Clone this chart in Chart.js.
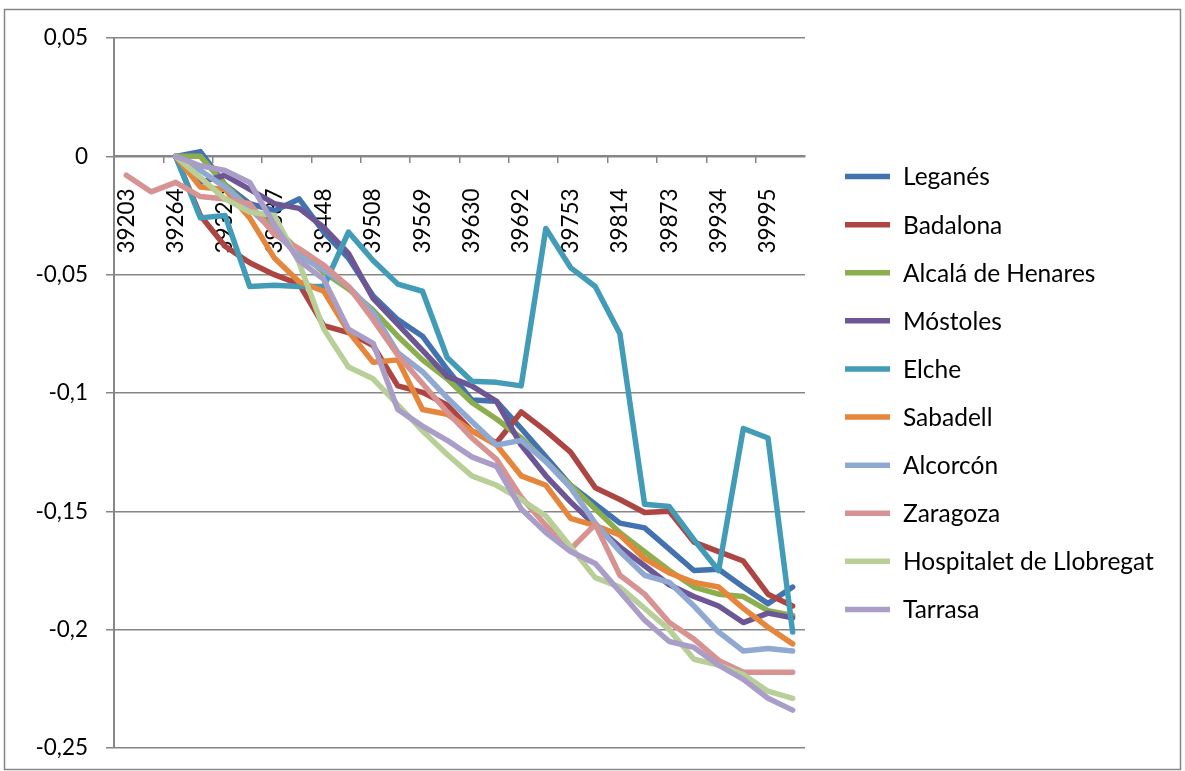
<!DOCTYPE html>
<html>
<head>
<meta charset="utf-8">
<script src="https://cdn.jsdelivr.net/npm/chart.js@4/dist/chart.umd.min.js"></script>
<style>
	html, body { margin: 0; padding: 0; background: #fff; }
	#wrap { position: relative; width: 1185px; height: 771px; }
</style>
</head>
<body>
<div id="wrap"><canvas id="chart"></canvas></div>
<script>

// months as Excel serial dates, May 2007 .. Aug 2009
const categories = [39203, 39234, 39264, 39295, 39326, 39356, 39387, 39417, 39448, 39479,
	39508, 39539, 39569, 39600, 39630, 39661, 39692, 39722, 39753, 39783,
	39814, 39845, 39873, 39904, 39934, 39965, 39995, 40026];

const seriesNames = ['Leganés', 'Badalona', 'Alcalá de Henares', 'Móstoles', 'Elche',
	'Sabadell', 'Alcorcón', 'Zaragoza', 'Hospitalet de Llobregat', 'Tarrasa'];

const leganes = [null, null, 0, 0.002, -0.012, -0.020, -0.023, -0.018, -0.032, -0.043, -0.059, -0.069, -0.076, -0.090,
	-0.103, -0.1035, -0.115, -0.127, -0.139, -0.147, -0.155, -0.157, -0.166, -0.175, -0.1745, -0.182, -0.189, -0.182];
const badalona = [null, null, 0, -0.025, -0.038, -0.045, -0.050, -0.054, -0.0715, -0.0745, -0.080, -0.097, -0.0997, -0.105,
	-0.116, -0.121, -0.108, -0.116, -0.125, -0.140, -0.145, -0.1505, -0.150, -0.163, -0.167, -0.171, -0.185, -0.190];
const alcala = [null, null, 0, 0, -0.012, -0.022, -0.030, -0.040, -0.049, -0.056, -0.065, -0.076, -0.086, -0.094,
	-0.104, -0.111, -0.119, -0.129, -0.139, -0.149, -0.159, -0.167, -0.175, -0.182, -0.185, -0.186, -0.192, -0.194];
const mostoles = [null, null, 0, -0.011, -0.008, -0.014, -0.020, -0.022, -0.030, -0.041, -0.060, -0.071, -0.082, -0.093,
	-0.097, -0.1035, -0.122, -0.135, -0.146, -0.156, -0.165, -0.173, -0.181, -0.186, -0.190, -0.197, -0.193, -0.195];
const elche = [null, null, 0, -0.026, -0.025, -0.055, -0.0545, -0.055, -0.055, -0.032, -0.044, -0.054, -0.057, -0.085,
	-0.095, -0.0955, -0.097, -0.0305, -0.047, -0.055, -0.075, -0.147, -0.148, -0.162, -0.175, -0.115, -0.119, -0.201];
const sabadell = [null, null, 0, -0.013, -0.014, -0.026, -0.043, -0.053, -0.057, -0.074, -0.087, -0.086, -0.107, -0.109,
	-0.116, -0.122, -0.135, -0.139, -0.153, -0.156, -0.160, -0.170, -0.176, -0.180, -0.182, -0.191, -0.199, -0.206];
const alcorcon = [null, null, 0, -0.006, -0.013, -0.022, -0.032, -0.042, -0.048, -0.055, -0.066, -0.083, -0.091, -0.102,
	-0.112, -0.122, -0.120, -0.129, -0.140, -0.155, -0.167, -0.177, -0.180, -0.190, -0.201, -0.209, -0.208, -0.209];
const zaragoza = [-0.008, -0.015, -0.011, -0.017, -0.018, -0.020, -0.033, -0.039, -0.046, -0.055, -0.069, -0.084, -0.096, -0.108,
	-0.119, -0.128, -0.144, -0.156, -0.166, -0.1555, -0.177, -0.185, -0.197, -0.204, -0.213, -0.218, -0.218, -0.218];
const hospitalet = [null, null, 0, -0.009, -0.018, -0.0235, -0.025, -0.045, -0.073, -0.089, -0.094, -0.105, -0.116, -0.126,
	-0.135, -0.139, -0.145, -0.152, -0.165, -0.178, -0.182, -0.191, -0.200, -0.2125, -0.215, -0.219, -0.226, -0.229];
const tarrasa = [null, null, 0, -0.004, -0.006, -0.011, -0.029, -0.044, -0.052, -0.073, -0.079, -0.107, -0.114, -0.120,
	-0.127, -0.131, -0.149, -0.159, -0.167, -0.172, -0.184, -0.196, -0.205, -0.2075, -0.215, -0.221, -0.229, -0.234];

const seriesValues = [leganes, badalona, alcala, mostoles, elche, sabadell, alcorcon, zaragoza, hospitalet, tarrasa];
const seriesColors = ['#4272B0', '#AD4542', '#8CAE4E', '#6D5694', '#429CB7', '#E5863B',
	'#8FA9D3', '#D69391', '#B8CF98', '#AA9DC7'];

const yTicks = [0.05, 0, -0.05, -0.1, -0.15, -0.2, -0.25];

const TICK_FONT = { family: 'Lato', size: 22.5 };
const LEGEND_FONT = { family: 'Lato', size: 24.5 };
const GRAY = '#868686';
const LINE_W = 5.5;

// outer frame + legend on the right
const frame = {
	id: 'frame',
	beforeDraw(chart) {
		let ctx = chart.ctx;
		ctx.save();
		ctx.fillStyle = '#fff';
		ctx.fillRect(0, 0, chart.width, chart.height);
		ctx.strokeStyle = GRAY;
		ctx.lineWidth = 1.5;
		ctx.strokeRect(4.5, 9.5, 1176, 760);
		ctx.restore();
	},
	afterDraw(chart) {
		let ctx = chart.ctx;
		let area = chart.chartArea;
		let sets = chart.data.datasets;
		let step = 48.1;
		let mid = (area.top + area.bottom) / 2;
		let y0 = mid - step * (sets.length - 1) / 2;
		let x0 = area.right + 40;
		ctx.save();
		ctx.font = LEGEND_FONT.size + 'px ' + LEGEND_FONT.family;
		ctx.textBaseline = 'middle';
		ctx.fillStyle = '#000';
		sets.forEach((ds, i) => {
			let y = y0 + i * step;
			ctx.strokeStyle = ds.borderColor;
			ctx.lineWidth = LINE_W;
			ctx.beginPath();
			ctx.moveTo(x0, y);
			ctx.lineTo(x0 + 45, y);
			ctx.stroke();
			ctx.fillText(ds.label, x0 + 58, y + 1);
		});
		ctx.restore();
	},
};

let datasets = seriesNames.map((name, i) => ({
	label: name,
	data: seriesValues[i],
	borderColor: seriesColors[i],
	backgroundColor: seriesColors[i],
	borderWidth: LINE_W,
	borderJoinStyle: 'round',
	borderCapStyle: 'round',
	pointRadius: 0,
	tension: 0,
	spanGaps: false,
	order: seriesNames.length - 1 - i,
}));

new Chart(document.getElementById('chart'), {
	type: 'line',
	data: { labels: categories, datasets },
	options: {
		responsive: true,
		maintainAspectRatio: false,
		animation: false,
		layout: { padding: { left: 0, top: 38, right: 380, bottom: 23 } },
		plugins: { legend: { display: false }, tooltip: { enabled: false } },
		scales: {
			x: {
				type: 'category',
				position: { y: 0 },
				offset: true,
				afterFit(scale) {
					scale.height = 0;
				},
				grid: {
					drawOnChartArea: false,
					offset: true,
					tickLength: 6,
					lineWidth: 1.5,
					color: (c) => (c.index % 2 === 0 ? GRAY : 'rgba(0,0,0,0)'),
				},
				border: { color: GRAY, width: 2 },
				ticks: {
					autoSkip: false,
					minRotation: 90,
					maxRotation: 90,
					padding: 26,
					color: '#000',
					font: TICK_FONT,
					callback(v, i) {
						return i % 2 === 0 ? String(this.getLabelForValue(v)) : '';
					},
				},
			},
			y: {
				min: -0.25,
				max: 0.05,
				afterBuildTicks(scale) {
					scale.ticks = yTicks.map((v) => ({ value: v }));
				},
				afterFit(scale) {
					scale.width = 114;
					// labels must not push the plot edges inwards
					scale.paddingTop = 0;
					scale.paddingBottom = 0;
				},
				grid: { color: GRAY, lineWidth: 1.5, tickLength: 8 },
				border: { color: GRAY, width: 2 },
				ticks: {
					padding: 18,
					color: '#000',
					font: TICK_FONT,
					callback: (v) => String(Math.round(v * 100) / 100).replace('.', ','),
				},
			},
		},
	},
	plugins: [frame],
});

</script>
</body>
</html>
